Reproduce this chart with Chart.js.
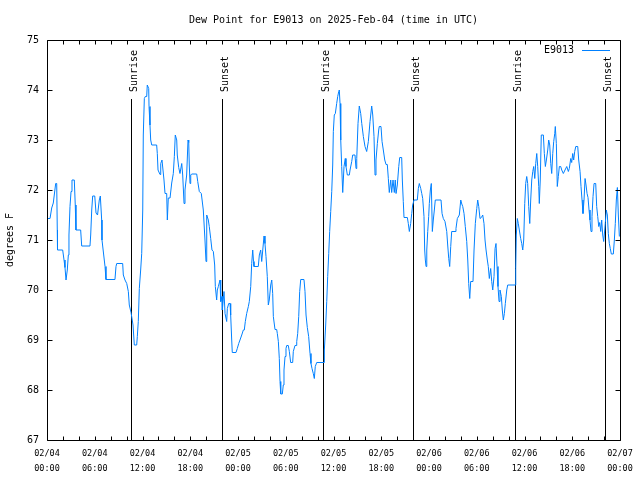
<!DOCTYPE html>
<html>
<head>
<meta charset="utf-8">
<script src="https://cdn.jsdelivr.net/npm/chart.js@4/dist/chart.umd.min.js"></script>
<style>
  html, body { margin: 0; padding: 0; background: #fff; }
  #wrap { width: 640px; height: 480px; }
</style>
</head>
<body>
<div id="wrap"><canvas id="c" width="640" height="480"></canvas></div>
<script>
// ---------- data ----------
const chartTitle = 'Dew Point for E9013 on 2025-Feb-04 (time in UTC)';
const seriesName = 'E9013';
const yAxisTitle = 'degrees F';

// hours since 2025-02-04 00:00 UTC
const hours = [
  0.04,0.38,0.59,0.79,1.09,1.22,1.29,1.32,1.97,2.14,2.26,2.39,2.55,2.68,2.76,2.89,3.02,3.14,3.43,3.55,3.64,4.23,4.36,5.40,5.49,5.62,5.74,6.00,6.16,6.35,6.57,6.70,6.87,6.91,7.29,7.41,8.54,8.67,8.76,9.51,9.59,9.80,10.02,10.22,10.34,10.56,10.81,10.97,11.27,11.35,11.47,11.60,11.77,11.90,
  12.03,12.10,12.23,12.35,12.53,12.60,12.78,12.82,12.94,13.03,13.16,13.78,13.86,13.95,14.20,14.29,14.45,14.70,14.83,15.04,15.12,15.24,15.46,15.67,15.87,16.00,16.12,16.30,16.37,16.55,16.71,16.93,17.05,17.22,17.34,17.55,17.72,17.81,17.88,17.97,18.06,18.18,18.81,18.94,19.14,19.39,19.64,19.85,19.98,20.07,20.27,20.39,20.57,20.73,20.90,21.07,21.15,21.32,21.40,21.53,21.74,21.83,21.99,
  22.03,22.24,22.37,22.58,22.66,22.83,23.00,23.08,23.21,23.28,23.75,23.91,24.09,24.25,24.47,24.67,24.79,24.92,25.09,25.30,25.42,25.60,25.72,25.85,25.95,26.01,26.55,26.68,26.85,26.98,27.11,27.27,27.39,27.52,27.68,27.81,27.93,28.11,28.24,28.36,28.44,28.65,28.86,28.94,29.07,29.19,29.28,29.37,29.57,29.69,29.78,29.91,30.03,30.12,30.32,30.45,30.62,30.87,30.95,31.16,31.29,31.38,31.50,31.63,31.75,31.88,32.29,32.42,32.55,32.71,32.88,33.05,33.17,33.30,33.46,33.59,33.71,33.89,34.81,
  34.85,35.02,35.15,35.27,35.40,35.52,35.65,35.78,35.90,35.98,36.10,36.23,36.40,36.53,36.66,36.73,36.82,36.91,37.03,37.16,37.32,37.48,37.57,37.74,37.99,38.08,38.29,38.41,38.70,38.83,38.92,39.08,39.24,39.42,39.55,39.75,39.96,40.17,40.38,40.59,40.80,40.93,41.09,41.22,41.34,41.51,41.68,41.75,41.97,42.10,42.26,42.44,42.60,42.76,42.89,43.01,43.19,43.31,43.48,43.64,43.76,43.86,44.02,44.20,44.32,44.57,44.65,44.77,44.86,45.28,45.40,45.53,45.70,45.83,45.95,
  46.12,46.53,46.66,46.78,46.96,47.09,47.21,47.37,47.46,47.54,47.63,47.72,47.84,47.96,48.04,48.17,48.29,48.42,48.54,48.67,48.79,49.51,49.64,49.80,50.01,50.23,50.35,50.48,50.60,50.73,50.85,51.27,51.39,51.56,51.81,51.99,52.12,52.24,52.40,52.56,52.74,52.87,52.99,53.12,53.24,53.53,53.66,53.82,54.00,54.12,54.25,54.41,54.58,54.75,54.91,55.04,55.17,55.33,55.45,55.58,55.75,55.88,56.01,56.17,56.30,56.42,56.55,56.67,56.80,56.92,57.09,57.21,57.34,57.47,57.59,57.77,57.89,58.81,
  58.90,58.97,59.10,59.22,59.35,59.52,59.65,59.78,59.90,60.03,60.15,60.28,60.40,60.53,60.66,60.78,60.91,61.04,61.16,61.29,61.41,61.54,61.66,61.79,61.86,61.98,62.11,62.37,62.49,62.62,62.75,62.92,63.04,63.17,63.30,63.42,63.55,63.67,63.80,63.87,64.00,64.12,64.25,64.38,64.55,64.68,64.88,65.09,65.31,65.51,65.63,65.81,65.93,66.06,66.18,66.31,66.44,66.69,66.81,66.98,67.10,67.23,67.35,67.48,67.61,67.73,67.86,67.98,68.11,68.23,68.36,68.48,68.61,68.74,68.95,69.07,69.20,69.33,69.45,69.58,69.70,69.83,69.95,70.08,70.16,70.28,70.41,70.53,70.66,70.78,70.91,71.16,71.29,71.41,71.54,71.67,71.79,71.92
];
const dewPoint = [
  71.43,71.43,71.64,71.74,72.13,72.13,71.2,70.8,70.8,70.6,70.45,70.2,70.4,70.7,71.1,71.67,71.97,72.2,72.2,71.7,71.2,71.2,70.88,70.88,71.1,71.6,71.88,71.88,71.54,71.5,71.8,71.88,71.4,71.0,70.47,70.21,70.21,70.47,70.53,70.53,70.3,70.2,70.13,69.97,69.7,69.55,69.3,68.9,68.9,69.07,69.37,70.03,70.4,70.73,
  71.6,73.1,73.83,73.87,73.87,74.1,74.03,73.67,73.3,73.0,72.9,72.9,72.73,72.4,72.31,72.53,72.6,72.2,71.93,71.93,71.4,71.84,71.84,72.14,72.33,72.67,73.1,73.0,72.7,72.45,72.33,72.53,72.3,71.73,72.0,72.3,73.0,72.95,72.5,72.13,72.3,72.32,72.32,72.17,71.97,71.93,71.6,71.0,70.57,71.5,71.4,71.27,71.03,70.8,70.77,70.5,70.07,69.8,70.0,70.07,70.2,69.77,69.87,
  69.6,69.97,69.53,69.37,69.63,69.73,69.73,69.5,69.0,68.75,68.75,68.83,68.93,69.0,69.1,69.2,69.2,69.37,69.53,69.67,69.77,70.07,70.53,70.8,70.57,70.47,70.47,70.7,70.8,70.57,70.8,71.08,70.93,70.67,70.27,69.7,69.8,70.1,70.2,69.93,69.47,69.21,69.21,69.13,68.97,68.63,68.17,67.92,67.92,68.1,68.4,68.67,68.83,68.89,68.89,68.77,68.55,68.55,68.77,68.89,68.89,68.97,69.13,69.47,69.97,70.21,70.21,69.97,69.5,69.25,69.07,68.73,68.53,68.43,68.33,68.23,68.47,68.55,68.55,
  68.8,69.3,69.77,70.27,70.73,71.17,71.57,71.97,72.5,73.17,73.5,73.53,73.73,73.87,73.97,74.0,73.73,73.0,72.47,71.95,72.47,72.63,72.47,72.3,72.3,72.4,72.57,72.7,72.7,72.43,72.63,73.33,73.68,73.53,73.33,73.07,72.87,72.77,72.97,73.37,73.68,73.5,73.07,72.3,72.6,72.93,73.2,73.27,73.27,72.97,72.8,72.6,72.51,72.51,72.23,71.95,72.2,71.95,72.2,71.95,72.2,71.93,72.1,72.47,72.65,72.65,72.2,71.77,71.45,71.45,71.33,71.17,71.33,71.53,71.7,
  71.8,71.8,72.03,72.13,72.03,71.93,71.83,71.47,70.8,70.6,70.47,70.8,71.17,71.47,71.73,72.0,72.13,71.17,71.4,71.6,71.8,71.8,71.53,71.43,71.37,71.17,70.9,70.63,70.47,70.87,71.17,71.17,71.23,71.43,71.5,71.8,71.72,71.67,71.53,71.27,70.97,70.6,70.13,69.83,70.17,70.17,70.8,71.33,71.63,71.8,71.67,71.43,71.45,71.5,71.33,71.0,70.8,70.6,70.47,70.23,70.43,70.17,70.0,70.27,70.83,70.93,70.47,70.07,69.77,70.0,69.87,69.6,69.4,69.53,69.73,70.0,70.1,70.1,
  70.43,71.1,71.43,71.33,71.2,71.03,70.93,70.8,71.0,71.73,72.13,72.27,72.13,71.67,71.33,71.8,72.2,72.37,72.47,72.23,72.53,72.73,72.47,72.07,71.73,72.2,73.1,73.1,72.73,72.47,72.6,72.8,73.0,72.9,72.53,72.33,72.73,72.97,73.13,73.27,72.93,72.07,72.27,72.47,72.47,72.4,72.33,72.4,72.47,72.37,72.43,72.63,72.55,72.73,72.6,72.77,72.87,72.87,72.6,72.37,72.07,71.8,71.53,71.8,72.23,72.1,71.93,71.85,71.6,71.4,71.17,71.47,71.87,72.13,72.13,71.67,71.47,71.27,71.35,71.17,71.4,71.1,70.97,71.2,71.35,71.6,71.5,71.13,70.93,70.83,70.72,70.72,71.0,71.33,71.8,72.05,71.5,71.07
];

// x tick labels every 6 hours
const tickDates = ['02/04','02/04','02/04','02/04','02/05','02/05','02/05','02/05','02/06','02/06','02/06','02/06','02/07'];
const tickTimes = ['00:00','06:00','12:00','18:00','00:00','06:00','12:00','18:00','00:00','06:00','12:00','18:00','00:00'];

// sunrise / sunset markers (hours since start)
const sunLabels = ['Sunrise','Sunset','Sunrise','Sunset','Sunrise','Sunset'];
const sunHours  = [10.6, 22.03, 34.72, 46.03, 58.85, 70.16];

const xMin = 0, xMax = 72, yMin = 67, yMax = 75;

// ---------- chart ----------
const MONO = '"DejaVu Sans Mono", "Liberation Mono", monospace';
const lineColor = 'rgb(0,128,255)';

const points = hours.map((h, i) => ({ x: h, y: dewPoint[i] }));

const decorPlugin = {
  id: 'decor',
  beforeDatasetsDraw(chart) {
    const { ctx, chartArea: a, scales: { x } } = chart;
    ctx.save();
    ctx.strokeStyle = '#000';
    ctx.lineWidth = 1;
    ctx.fillStyle = '#000';
    ctx.font = '10px ' + MONO;
    sunHours.forEach((h, i) => {
      const px = Math.round(x.getPixelForValue(h)) + 0.5;
      ctx.beginPath();
      ctx.moveTo(px, a.top + 59);
      ctx.lineTo(px, a.bottom);
      ctx.stroke();
      ctx.save();
      ctx.translate(px + 5, a.top + 52);
      ctx.rotate(-Math.PI / 2);
      ctx.textAlign = 'left';
      ctx.textBaseline = 'alphabetic';
      ctx.fillText(sunLabels[i], 0, 0);
      ctx.restore();
    });
    ctx.restore();
  },
  afterDraw(chart) {
    const { ctx, chartArea: a, scales: { x, y } } = chart;
    ctx.save();
    ctx.strokeStyle = '#000';
    ctx.lineWidth = 1;
    // frame
    const L = Math.round(a.left) + 0.5, R = Math.round(a.right) + 0.5;
    const T = Math.round(a.top) + 0.5, B = Math.round(a.bottom) + 0.5;
    ctx.beginPath();
    ctx.rect(L, T, R - L, B - T);
    ctx.stroke();
    // inward ticks
    ctx.beginPath();
    x.ticks.forEach(t => {
      const px = Math.round(x.getPixelForValue(t.value)) + 0.5;
      ctx.moveTo(px, B); ctx.lineTo(px, B - 4);
      ctx.moveTo(px, T); ctx.lineTo(px, T + 4);
    });
    y.ticks.forEach(t => {
      const py = Math.round(y.getPixelForValue(t.value)) + 0.5;
      ctx.moveTo(L, py); ctx.lineTo(L + 5, py);
      ctx.moveTo(R, py); ctx.lineTo(R - 5, py);
    });
    ctx.stroke();
    // title
    ctx.fillStyle = '#000';
    ctx.font = '10px ' + MONO;
    ctx.textAlign = 'center';
    ctx.textBaseline = 'middle';
    ctx.fillText(chartTitle, (a.left + a.right) / 2, 20);
    // y axis title
    ctx.save();
    ctx.translate(10, (a.top + a.bottom) / 2);
    ctx.rotate(-Math.PI / 2);
    ctx.textAlign = 'center';
    ctx.textBaseline = 'middle';
    ctx.fillText(yAxisTitle, 0, 0);
    ctx.restore();
    // legend
    const ds = chart.data.datasets[0];
    const ly = a.top + 10;
    ctx.textAlign = 'right';
    ctx.fillText(ds.label, a.right - 46, ly);
    ctx.strokeStyle = ds.borderColor;
    ctx.beginPath();
    ctx.moveTo(a.right - 38, Math.round(ly) + 0.5);
    ctx.lineTo(a.right - 10, Math.round(ly) + 0.5);
    ctx.stroke();
    ctx.restore();
  }
};

new Chart(document.getElementById('c'), {
  type: 'line',
  data: {
    datasets: [{
      label: seriesName,
      data: points,
      borderColor: lineColor,
      borderWidth: 1,
      pointRadius: 0,
      tension: 0,
      fill: false
    }]
  },
  options: {
    responsive: false,
    animation: false,
    devicePixelRatio: 1,
    layout: { padding: { top: 40, right: 20, left: 0, bottom: 0 } },
    plugins: {
      legend: { display: false },
      title: { display: false },
      tooltip: { enabled: false }
    },
    scales: {
      x: {
        type: 'linear',
        min: xMin, max: xMax,
        grid: { display: false, drawTicks: false },
        border: { display: false },
        afterFit(s) { s.height = 40; s.paddingLeft = 0; s.paddingRight = 0; },
        ticks: {
          stepSize: 2,
          autoSkip: false,
          maxRotation: 0,
          padding: 6,
          color: '#000',
          font: { family: MONO, size: 8.5, lineHeight: '15px' },
          callback(v) {
            if (v % 6 !== 0) return '';
            const i = v / 6;
            return [tickDates[i], tickTimes[i]];
          }
        }
      },
      y: {
        min: yMin, max: yMax,
        grid: { display: false, drawTicks: false },
        border: { display: false },
        afterFit(s) { s.width = 47; },
        ticks: {
          stepSize: 1,
          padding: 8,
          color: '#000',
          font: { family: MONO, size: 10 }
        }
      }
    }
  },
  plugins: [decorPlugin]
});
</script>
</body>
</html>
